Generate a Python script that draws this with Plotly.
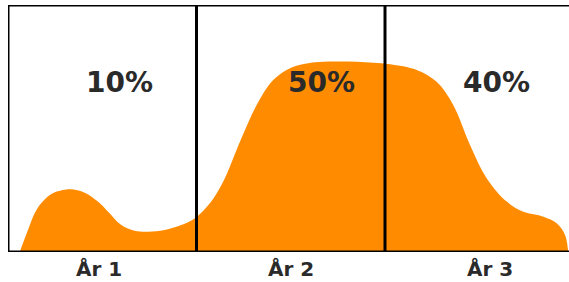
import plotly.graph_objects as go

# Data (x in years, y as relative intensity 0-100)
curve_x = [0.062, 0.106, 0.142, 0.177, 0.230, 0.327, 0.407, 0.477, 0.531, 0.601, 0.672,
           0.743, 0.831, 0.919, 0.990, 1.072, 1.142, 1.231, 1.319, 1.407, 1.496, 1.585,
           1.673, 1.760, 1.850, 1.940, 2.027, 2.168, 2.274, 2.362, 2.451, 2.540, 2.646,
           2.734, 2.841, 2.911, 2.955, 2.972]
curve_y = [0, 8.9, 15.8, 19.8, 23.5, 25.4, 24.0, 20.4, 16.3, 10.9, 8.6,
           8.2, 8.9, 10.9, 13.6, 19.8, 28.5, 44.7, 59.5, 69.6, 74.4, 76.3,
           77.0, 77.1, 77.0, 76.6, 76.0, 73.7, 68.9, 59.5, 43.3, 29.8, 20.4,
           16.3, 14.3, 11.6, 6.9, 0]
share_labels = ["10%", "50%", "40%"]
share_x = [0.589, 1.664, 2.589]
year_labels = ["År 1", "År 2", "År 3"]
year_x = [0.483, 1.501, 2.557]
boundaries = [0, 1, 2]

W, H = 569, 282
ML, MT, MB = 8, 5, 30
x_max = (W - ML) / 188.5

fig = go.Figure()
fig.add_trace(go.Scatter(x=curve_x, y=curve_y, mode="lines", fill="tozeroy",
                         line=dict(shape="spline", smoothing=1.0, width=0, color="#FF8C00"),
                         fillcolor="#FF8C00", hoverinfo="skip"))

for b in boundaries:
    fig.add_shape(type="line", xref="x", yref="y", x0=b, x1=b, y0=0, y1=100,
                  line=dict(color="black", width=3))
fig.add_shape(type="line", xref="paper", yref="y", x0=0, x1=1, y0=100, y1=100,
              line=dict(color="black", width=3))
fig.add_shape(type="line", xref="paper", yref="y", x0=0, x1=1, y0=0, y1=0,
              line=dict(color="black", width=3))

for t, x in zip(share_labels, share_x):
    fig.add_annotation(x=x, y=68.6, text=f"<b>{t}</b>", showarrow=False,
                       font=dict(family="DejaVu Sans", size=28, color="#2a2a2a"),
                       xanchor="center", yanchor="middle")
for t, x in zip(year_labels, year_x):
    fig.add_annotation(x=x, y=0, yref="y", text=f"<b>{t}</b>", showarrow=False,
                       font=dict(family="DejaVu Sans", size=20, color="#2a2a2a"),
                       xanchor="center", yanchor="top", yshift=-3)

fig.update_layout(
    width=W, height=H, margin=dict(l=ML, r=0, t=MT, b=MB),
    paper_bgcolor="white", plot_bgcolor="white", showlegend=False,
    xaxis=dict(range=[0, x_max], visible=False, fixedrange=True),
    yaxis=dict(range=[0, 100], visible=False, fixedrange=True),
)
fig.write_html("out.html", config={"displayModeBar": False},
               post_script="document.body.style.margin='0';document.body.style.overflow='hidden';")
